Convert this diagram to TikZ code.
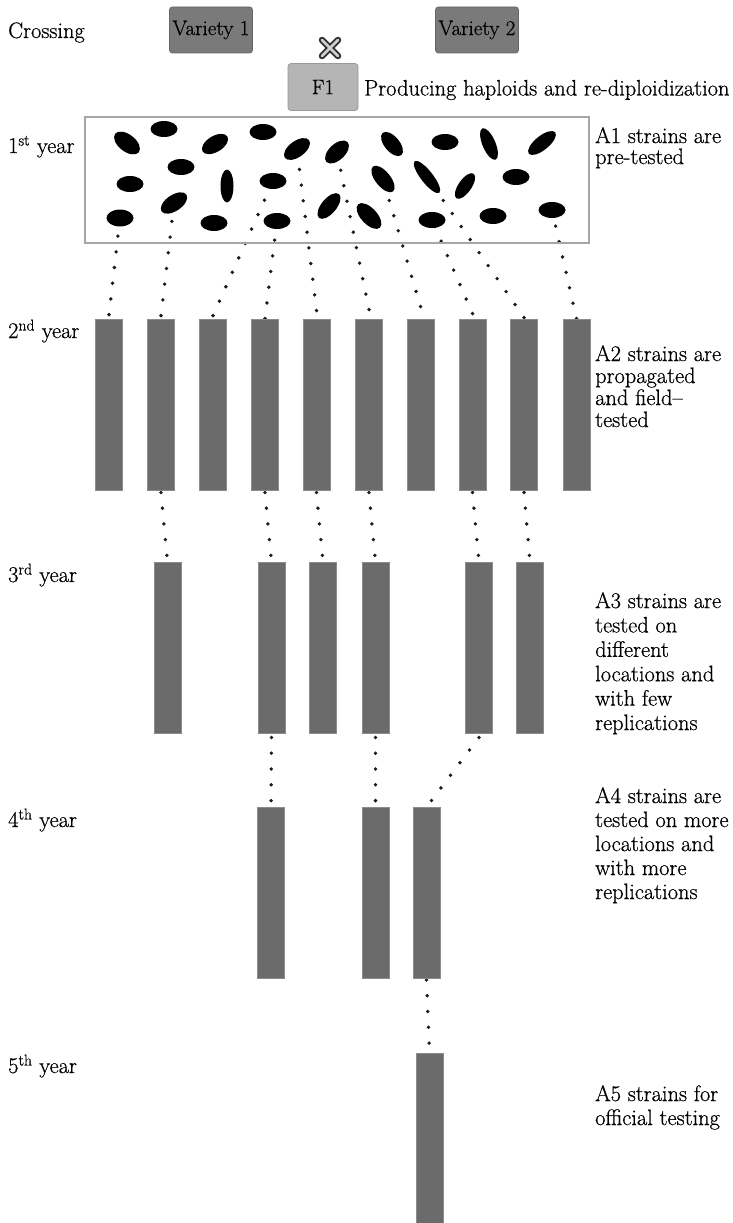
\documentclass[tikz,border=0pt]{standalone}
\usepackage{fontspec}
\setmainfont{Latin Modern Roman}[FakeBold=0.6]
\usetikzlibrary{shapes.geometric,backgrounds}
\definecolor{vfill}{HTML}{7A7A7A}
\definecolor{vedge}{HTML}{666666}
\definecolor{ffill}{HTML}{B5B5B5}
\definecolor{fedge}{HTML}{999999}
\definecolor{sfill}{HTML}{6B6B6B}
\definecolor{sedge}{HTML}{8C8C8C}
\definecolor{frameedge}{HTML}{A6A6A6}
\definecolor{dotc}{HTML}{1A1A1A}
\definecolor{xdark}{HTML}{333333}
\definecolor{xlight}{HTML}{D0D0D0}
\begin{document}
\begin{tikzpicture}[x=1pt,y=-1pt,
  txt/.style={font=\fontsize{22.4}{24}\selectfont, inner sep=0pt, text=black},
  desc/.style={txt, anchor=north west, align=left},
  vbox/.style={draw=vedge, fill=vfill, rounded corners=3pt, line width=0.8pt,
    minimum width=83pt, minimum height=46pt, inner sep=0pt, font=\fontsize{21}{22}\selectfont},
  fbox/.style={draw=fedge, fill=ffill, rounded corners=3pt, line width=0.8pt,
    minimum width=70pt, minimum height=47pt, inner sep=0pt, font=\fontsize{21}{22}\selectfont},
  strain/.style={draw=sedge, fill=sfill, line width=0.8pt,
    minimum width=27pt, minimum height=171pt, inner sep=0pt},
  seed/.style={ellipse, fill=black, inner sep=0pt, minimum width=27pt, minimum height=16pt},
  pool/.style={draw=frameedge, line width=1.5pt, minimum width=504pt, minimum height=126pt, inner sep=0pt},
  dots/.style={draw=dotc, line width=3.8pt, line cap=round, dash pattern=on 0pt off 15.8pt},
  xstroke/.style={line cap=round}
]
\useasboundingbox (0,0) rectangle (732,1223);

% ---------- crossing ----------
\node[txt, anchor=base west] (lcross) at (8,38) {Crossing};
\node[vbox] (v1) at (211,30) {Variety 1};
\node[vbox] (v2) at (477,30) {Variety 2};
\coordinate (xc) at (330,48);
\draw[xstroke, line width=6.5pt, draw=xdark] ([xshift=-8pt,yshift=8pt]xc) -- ([xshift=8pt,yshift=-8pt]xc)
  ([xshift=-8pt,yshift=-8pt]xc) -- ([xshift=8pt,yshift=8pt]xc);
\draw[xstroke, line width=2.6pt, draw=xlight] ([xshift=-8pt,yshift=8pt]xc) -- ([xshift=8pt,yshift=-8pt]xc)
  ([xshift=-8pt,yshift=-8pt]xc) -- ([xshift=8pt,yshift=8pt]xc);
\node[fbox] (f1) at (323,87) {F1};
\node[txt, anchor=west] (lhap) at (364,90) {Producing haploids and re-diploidization};

% ---------- 1st year ----------
\node[pool] (pool) at (337,180) {};
\node[txt, anchor=base west] (y1) at (8,153) {1\textsuperscript{st} year};
\node[desc, font=\fontsize{22.4}{21}\selectfont] (t1) at (595,127) {A1 strains are\\pre-tested};

\node[seed, rotate=-38, minimum width=30pt, minimum height=17pt] (s1) at (127,143) {};
\node[seed] (s2) at (164,129) {};
\node[seed, rotate=31, minimum width=29pt] (s3) at (215,144) {};
\node[seed] (s4) at (263,132) {};
\node[seed, rotate=36, minimum width=30pt] (s5) at (297,149) {};
\node[seed, rotate=43, minimum width=29pt] (s6) at (337,152) {};
\node[seed, rotate=-50, minimum width=29pt, minimum height=15pt] (s7) at (392,144) {};
\node[seed] (s8) at (181,167) {};
\node[seed] (s9) at (130,184) {};
\node[seed, rotate=90, minimum width=33pt, minimum height=13pt] (s10) at (227,186) {};
\node[seed] (s11) at (273,181) {};
\node[seed, rotate=-51, minimum width=32pt, minimum height=15pt] (s12) at (383,179) {};
\node[seed, rotate=34, minimum width=30pt] (s13) at (174,203) {};
\node[seed, rotate=50, minimum width=31pt, minimum height=15pt] (s14) at (329,206) {};
\node[seed, minimum height=17pt] (s15) at (120,218) {};
\node[seed] (s16) at (214,223) {};
\node[seed] (s17) at (277,221) {};
\node[seed, rotate=-47, minimum width=32pt] (s18) at (369,216) {};
\node[seed] (s19) at (445,142) {};
\node[seed, rotate=-67, minimum width=34pt, minimum height=13pt] (s20) at (489,144) {};
\node[seed, rotate=39, minimum width=34pt, minimum height=14pt] (s21) at (542,143) {};
\node[seed, rotate=-52, minimum width=40pt, minimum height=12pt] (s22) at (427,177) {};
\node[seed, rotate=55, minimum width=30pt, minimum height=13pt] (s23) at (465,186) {};
\node[seed] (s24) at (516,177) {};
\node[seed] (s25) at (432,220) {};
\node[seed] (s26) at (493,216) {};
\node[seed] (s27) at (552,210) {};

% ---------- 2nd year ----------
\node[txt, anchor=base west] (y2) at (8,338) {2\textsuperscript{nd} year};
\node[desc, font=\fontsize{22.4}{22}\selectfont] (t2) at (595,345) {A2 strains are\\propagated\\and field--\\tested};
\foreach \i/\x in {1/109,2/161,3/213,4/265,5/316.5,6/369,7/420.5,8/472.5,9/524,10/576.5}
  \node[strain] (b\i) at (\x,404.5) {};

% ---------- 3rd year ----------
\node[txt, anchor=base west] (y3) at (8,582) {3\textsuperscript{rd} year};
\node[desc, font=\fontsize{22.4}{24.4}\selectfont] (t3) at (595,592) {A3 strains are\\tested on\\different\\locations and\\with few\\replications};
\foreach \i/\x in {1/167.5,2/271.5,3/323,4/375.5,5/479,6/530}
  \node[strain] (c\i) at (\x,647.5) {};

% ---------- 4th year ----------
\node[txt, anchor=base west] (y4) at (8,827) {4\textsuperscript{th} year};
\node[desc, font=\fontsize{22.4}{24}\selectfont] (t4) at (595,787) {A4 strains are\\tested on more\\locations and\\with more\\replications};
\foreach \i/\x in {1/271,2/375.5,3/426.5}
  \node[strain] (d\i) at (\x,893) {};

% ---------- 5th year ----------
\node[txt, anchor=base west] (y5) at (8,1073) {5\textsuperscript{th} year};
\node[desc, font=\fontsize{22.4}{24}\selectfont] (t5) at (595,1085) {A5 strains for\\official testing};
\node[strain] (e1) at (429.5,1138.5) {};

% ---------- dotted connectors (behind) ----------
\begin{scope}[on background layer]
\fill[white] (0,0) rectangle (732,1223);
\draw[dots] ([yshift=4pt]b1.north) -- (s15.center);
\draw[dots] ([yshift=3pt]b2.north) -- (s13.center);
\draw[dots] ([yshift=3pt]b3.north) -- (s11.center);
\draw[dots] (b4.north) -- (s17.center);
\draw[dots] ([yshift=8pt]b5.north) -- (s5.center);
\draw[dots] ([yshift=9pt]b6.north) -- (s6.center);
\draw[dots] ([yshift=12pt]b7.north) -- (s12.center);
\draw[dots] ([yshift=5pt]b8.north) -- (s25.center);
\draw[dots] ([yshift=1pt]b9.north) -- (s22.center);
\draw[dots] (b10.north) -- (s27.center);

\draw[dots] ([yshift=-2pt]b2.south) -- (c1.north);
\draw[dots] ([yshift=-2pt]b4.south) -- (c2.north);
\draw[dots] ([yshift=-2pt]b5.south) -- (c3.north);
\draw[dots] ([yshift=-2pt]b6.south) -- (c4.north);
\draw[dots] ([yshift=-2pt]b8.south) -- (c5.north);
\draw[dots] ([yshift=-2pt]b9.south) -- (c6.north);

\draw[dots] ([yshift=-4pt]c2.south) -- (d1.north);
\draw[dots] ([yshift=-4pt]c4.south) -- (d2.north);
\draw[dots] ([yshift=-4pt]c5.south) -- (d3.north);

\draw[dots] ([yshift=-1pt]d3.south) -- (e1.north);
\end{scope}
\end{tikzpicture}
\end{document}
